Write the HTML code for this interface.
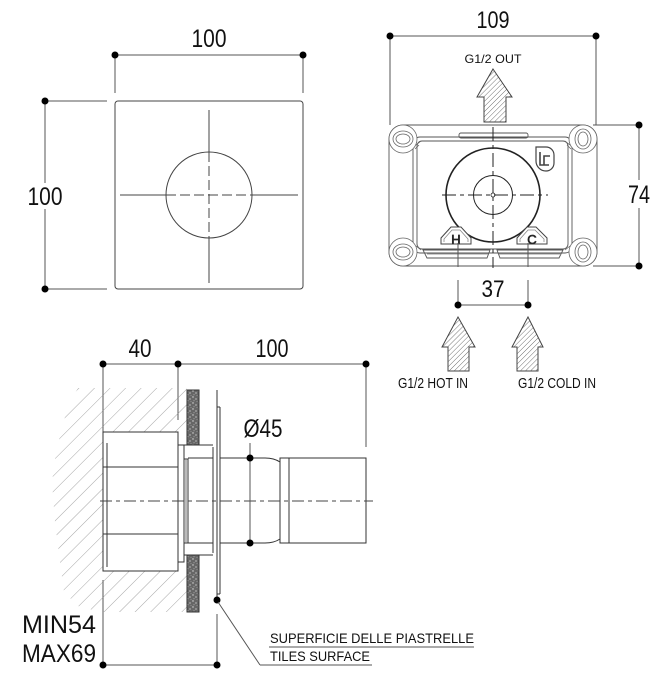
<!DOCTYPE html>
<html><head><meta charset="utf-8"><style>
html,body{margin:0;padding:0;background:#fff;}
svg{display:block}
text{font-family:"Liberation Sans",Arial,sans-serif;fill:#111}
</style></head><body>
<svg width="661" height="678" viewBox="0 0 661 678" xmlns="http://www.w3.org/2000/svg">
<defs>
 <pattern id="ah" patternUnits="userSpaceOnUse" width="3.6" height="3.6" patternTransform="rotate(45)">
  <rect width="3.6" height="3.6" fill="#fff"/>
  <line x1="0" y1="0" x2="0" y2="3.6" stroke="#555" stroke-width="0.8"/>
 </pattern>
 <pattern id="wh" patternUnits="userSpaceOnUse" width="11" height="11" patternTransform="rotate(45)">
  <line x1="0" y1="0" x2="0" y2="11" stroke="#888" stroke-width="0.75"/>
 </pattern>
 <pattern id="sp" patternUnits="userSpaceOnUse" width="6" height="6">
  <rect width="6" height="6" fill="#666"/>
  <circle cx="1" cy="1" r="0.7" fill="#ddd"/>
  <circle cx="4" cy="3" r="0.6" fill="#eee"/>
  <circle cx="2" cy="4.8" r="0.5" fill="#bbb"/>
  <circle cx="5" cy="5.5" r="0.4" fill="#ccc"/>
 </pattern>
 <clipPath id="wallclip">
  <polygon points="78,388 187,388 187,432 103,432 103,571 187,571 187,612 100,612 78,606 64,592 60,562 55,522 52,482 56,452 64,420 70,402"/>
 </clipPath>
</defs>

<!-- ============ TOP-LEFT VIEW ============ -->
<g stroke="#555" stroke-width="1" fill="none">
 <line x1="115" y1="55" x2="303" y2="55"/>
 <line x1="115" y1="55" x2="115" y2="93"/>
 <line x1="303" y1="55" x2="303" y2="93"/>
 <line x1="45" y1="101" x2="45" y2="289"/>
 <line x1="45" y1="101" x2="107" y2="101"/>
 <line x1="45" y1="289" x2="107" y2="289"/>
</g>
<g fill="#000">
 <circle cx="115" cy="55" r="3.5"/><circle cx="303" cy="55" r="3.5"/>
 <circle cx="45" cy="101" r="3.5"/><circle cx="45" cy="289" r="3.5"/>
</g>
<text x="209" y="47" font-size="25" text-anchor="middle" textLength="35" lengthAdjust="spacingAndGlyphs">100</text>
<rect x="26" y="183" width="38" height="26" fill="#fff"/>
<text x="45" y="205" font-size="25" text-anchor="middle" textLength="35" lengthAdjust="spacingAndGlyphs">100</text>
<g stroke="#444" stroke-width="1" fill="none">
 <rect x="115" y="101" width="188" height="188" rx="3"/>
 <circle cx="209" cy="195" r="43"/>
 <line x1="120" y1="195" x2="166" y2="195"/>
 <line x1="252" y1="195" x2="298" y2="195"/>
 <line x1="166" y1="195" x2="252" y2="195" stroke-dasharray="10 4"/>
 <line x1="209" y1="110" x2="209" y2="152"/>
 <line x1="209" y1="238" x2="209" y2="283"/>
 <line x1="209" y1="152" x2="209" y2="238" stroke-dasharray="10 4"/>
</g>

<!-- ============ TOP-RIGHT VIEW ============ -->
<text x="493" y="28" font-size="24" text-anchor="middle" textLength="33" lengthAdjust="spacingAndGlyphs">109</text>
<g stroke="#555" stroke-width="1" fill="none">
 <line x1="390" y1="36" x2="596" y2="36"/>
 <line x1="390" y1="36" x2="390" y2="125"/>
 <line x1="596" y1="36" x2="596" y2="125"/>
 <line x1="593" y1="125" x2="639" y2="125"/>
 <line x1="593" y1="266" x2="639" y2="266"/>
 <line x1="639" y1="125" x2="639" y2="266"/>
</g>
<g fill="#000">
 <circle cx="390" cy="36" r="3.5"/><circle cx="596" cy="36" r="3.5"/>
 <circle cx="639" cy="125" r="3.5"/><circle cx="639" cy="266" r="3.5"/>
</g>
<rect x="626" y="180" width="26" height="28" fill="#fff"/>
<text x="639" y="203" font-size="25" text-anchor="middle" textLength="22" lengthAdjust="spacingAndGlyphs">74</text>

<text x="493" y="63" font-size="12" text-anchor="middle" textLength="57" lengthAdjust="spacingAndGlyphs">G1/2 OUT</text>
<polygon points="493,69 512,97 506,97 506,122 484,122 484,97 477,97" fill="url(#ah)" stroke="#444" stroke-width="1"/>

<!-- box -->
<g stroke="#555" stroke-width="0.9" fill="none">
 <rect x="389" y="125" width="208" height="141" rx="14" fill="#fff"/>
 <rect x="413" y="137" width="159" height="116" rx="7"/>
 <rect x="417" y="141" width="151" height="108" rx="5"/>
 <rect x="459" y="133" width="69" height="5" rx="2"/>
 <path d="M423,250 H490 L487,258 H427 Z"/>
 <path d="M497,250 H563 L559,258 H500 Z"/>
 <line x1="427" y1="254" x2="488" y2="254" stroke="#999"/>
 <line x1="499" y1="254" x2="561" y2="254" stroke="#999"/>
</g>
<!-- ears -->
<g stroke="#666" stroke-width="0.8" fill="#fff">
 <circle cx="403" cy="139" r="14"/>
 <circle cx="583" cy="139" r="14"/>
 <circle cx="403" cy="252" r="14"/>
 <circle cx="583" cy="252" r="14"/>
</g>
<g stroke="#666" stroke-width="0.8" fill="none">
 <ellipse cx="403" cy="139" rx="10" ry="8"/><ellipse cx="403" cy="139" rx="7" ry="5"/>
 <ellipse cx="583" cy="139" rx="8" ry="10"/><ellipse cx="583" cy="139" rx="5" ry="7"/>
 <ellipse cx="403" cy="252" rx="10" ry="8"/><ellipse cx="403" cy="252" rx="7" ry="5"/>
 <ellipse cx="583" cy="252" rx="8" ry="10"/><ellipse cx="583" cy="252" rx="5" ry="7"/>
 <path d="M416,145 L421,141 M415,149 L419,145"/>
 <path d="M570,145 L565,141 M571,149 L567,145"/>
 <path d="M416,246 L421,250 M570,246 L565,250"/>
</g>
<!-- circles -->
<g stroke="#222" fill="none">
 <circle cx="493" cy="195" r="47" stroke-width="1.6"/>
 <circle cx="493" cy="195" r="19.5" stroke-width="1"/>
 <circle cx="493" cy="195" r="2" stroke-width="0.8"/>
 <line x1="442" y1="195" x2="548" y2="195" stroke-width="1" stroke-dasharray="14 4 4 4"/>
 <line x1="493" y1="127" x2="493" y2="268" stroke-width="1" stroke-dasharray="14 4 4 4"/>
</g>
<!-- badges -->
<g stroke="#444" stroke-width="1" fill="#fff">
 <path d="M441,244 V238 L451,227 H461 L471,238 V244 Z"/>
 <path d="M517,244 V238 L527,227 H536 L547,238 V244 Z"/>
</g>
<g stroke="#888" stroke-width="0.8" fill="none">
 <path d="M444,242 V239 L452,230 H460 L468,239 V242"/>
 <path d="M520,242 V239 L528,230 H535 L544,239 V242"/>
</g>
<text x="456" y="244" font-size="13" text-anchor="middle" fill="#fff" stroke="#333" stroke-width="0.7">H</text>
<text x="532" y="244" font-size="13" text-anchor="middle" fill="#fff" stroke="#333" stroke-width="0.7">C</text>
<!-- logo -->
<path d="M536,147 H546 A8,8 0 0 1 554,155 V163 A8,8 0 0 1 546,171 A10,10 0 0 1 536,161 Z" fill="#fff" stroke="#444" stroke-width="1.2"/>
<path d="M540,152 V165 H549 M544,165 V156 H550" fill="none" stroke="#444" stroke-width="1.6"/>

<!-- 37 dim -->
<g stroke="#555" stroke-width="1" fill="none">
 <line x1="458" y1="243" x2="458" y2="267"/>
 <line x1="458" y1="280" x2="458" y2="305"/>
 <line x1="528" y1="243" x2="528" y2="267"/>
 <line x1="528" y1="280" x2="528" y2="305"/>
 <line x1="458" y1="305" x2="528" y2="305"/>
</g>
<g fill="#000"><circle cx="458" cy="305" r="3.5"/><circle cx="528" cy="305" r="3.5"/></g>
<text x="493" y="297" font-size="24" text-anchor="middle" textLength="23" lengthAdjust="spacingAndGlyphs">37</text>
<polygon points="458,317 475,347 469,347 469,371 448,371 448,347 442,347" fill="url(#ah)" stroke="#444" stroke-width="1"/>
<polygon points="528,317 543,347 538,347 538,371 517,371 517,347 512,347" fill="url(#ah)" stroke="#444" stroke-width="1"/>
<text x="433" y="388" font-size="15" text-anchor="middle" textLength="70" lengthAdjust="spacingAndGlyphs">G1/2 HOT IN</text>
<text x="557" y="388" font-size="15" text-anchor="middle" textLength="78" lengthAdjust="spacingAndGlyphs">G1/2 COLD IN</text>

<!-- ============ SIDE VIEW ============ -->
<text x="140" y="357" font-size="25" text-anchor="middle" textLength="23" lengthAdjust="spacingAndGlyphs">40</text>
<text x="272" y="357" font-size="25" text-anchor="middle" textLength="33" lengthAdjust="spacingAndGlyphs">100</text>
<g stroke="#555" stroke-width="1" fill="none">
 <line x1="103" y1="364" x2="366" y2="364"/>
 <line x1="103" y1="364" x2="103" y2="432"/>
 <line x1="178" y1="364" x2="178" y2="420"/>
 <line x1="366" y1="364" x2="366" y2="447"/>
 <line x1="103" y1="580" x2="103" y2="665"/>
 <line x1="103" y1="665" x2="217" y2="665"/>
 <line x1="217" y1="614" x2="217" y2="665"/>
</g>
<g fill="#000">
 <circle cx="103" cy="364" r="3.5"/><circle cx="178" cy="364" r="3.5"/><circle cx="366" cy="364" r="3.5"/>
 <circle cx="103" cy="665" r="3.5"/><circle cx="217" cy="665" r="3.5"/>
</g>

<!-- wall hatch -->
<rect x="40" y="380" width="150" height="240" fill="url(#wh)" clip-path="url(#wallclip)"/>

<!-- tiles -->
<rect x="187" y="390" width="12" height="55" fill="url(#sp)" stroke="#333" stroke-width="1"/>
<rect x="187" y="555" width="12" height="57" fill="url(#sp)" stroke="#333" stroke-width="1"/>

<!-- body -->
<g stroke="#333" stroke-width="1" fill="none">
 <rect x="103" y="432" width="75" height="139" fill="#fff"/>
 <line x1="103" y1="467" x2="178" y2="467"/>
 <line x1="103" y1="534" x2="178" y2="534"/>
 <line x1="107" y1="443" x2="107" y2="567"/>
 <rect x="178" y="445" width="6" height="117"/>
 <rect x="184" y="459" width="4" height="84"/>
 <line x1="186" y1="459" x2="186" y2="543" stroke="#777"/>
 <line x1="188" y1="458" x2="213" y2="458"/>
 <line x1="188" y1="543" x2="213" y2="543"/>
 <line x1="184" y1="445" x2="213" y2="445"/>
 <line x1="184" y1="555" x2="213" y2="555"/>
 <line x1="213" y1="447" x2="213" y2="553"/>
 <line x1="217" y1="390" x2="217" y2="600"/>
 <line x1="220" y1="407" x2="220" y2="594"/>
 <line x1="217" y1="407" x2="220" y2="407"/>
 <line x1="217" y1="594" x2="220" y2="594"/>
 <path d="M220,458 H265 Q274,458 280,462"/>
 <path d="M220,543 H265 Q274,543 280,539"/>
 <rect x="280" y="458" width="9" height="85"/>
 <rect x="289" y="458" width="77" height="85"/>
</g>
<!-- centerline -->
<line x1="100" y1="501" x2="373" y2="501" stroke="#444" stroke-width="1" stroke-dasharray="12 4 4 4"/>

<!-- Ø45 -->
<line x1="250" y1="443" x2="250" y2="543" stroke="#555" stroke-width="1"/>
<g fill="#000"><circle cx="250" cy="458" r="3.5"/><circle cx="250" cy="543" r="3.5"/><circle cx="217" cy="600" r="3.5"/></g>
<text x="263" y="437" font-size="25" text-anchor="middle" textLength="39" lengthAdjust="spacingAndGlyphs">Ø45</text>

<!-- leader & tile labels -->
<g stroke="#555" stroke-width="1" fill="none">
 <line x1="218" y1="602" x2="260" y2="665"/>
 <line x1="260" y1="665" x2="372" y2="665"/>
 <line x1="269" y1="647" x2="474" y2="647"/>
</g>
<text x="270" y="643" font-size="14" textLength="204" lengthAdjust="spacingAndGlyphs">SUPERFICIE DELLE PIASTRELLE</text>
<text x="270" y="661" font-size="14" textLength="100" lengthAdjust="spacingAndGlyphs">TILES SURFACE</text>

<text x="22" y="633" font-size="25" textLength="74" lengthAdjust="spacingAndGlyphs">MIN54</text>
<text x="22" y="662" font-size="25" textLength="74" lengthAdjust="spacingAndGlyphs">MAX69</text>
</svg>
</body></html>
